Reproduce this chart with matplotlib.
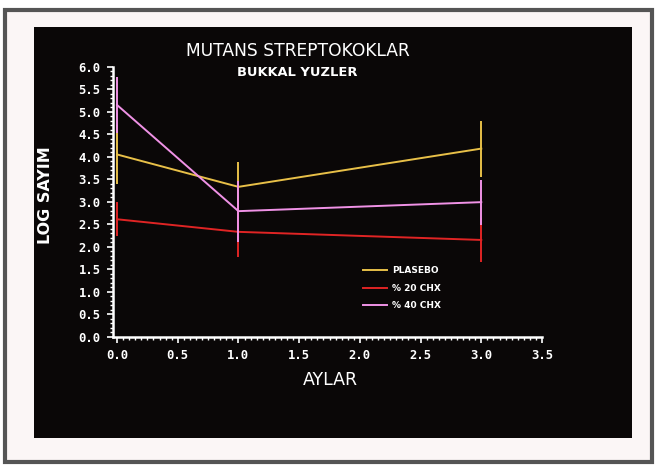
import matplotlib
matplotlib.use("Agg")
import matplotlib.pyplot as plt
from matplotlib.patches import Rectangle
from matplotlib.ticker import MultipleLocator

months = [0, 1, 3]
series_names = ["PLASEBO", "% 20 CHX", "% 40 CHX"]
plasebo = [4.05, 3.33, 4.18]
plasebo_err = [0.65, 0.55, 0.62]
chx20 = [2.61, 2.33, 2.15]
chx20_err = [0.38, 0.55, 0.48]
chx40 = [5.15, 2.79, 2.99]
chx40_err = [0.63, 0.68, 0.50]
xticks = [0.0, 0.5, 1.0, 1.5, 2.0, 2.5, 3.0, 3.5]
yticks = [0.0, 0.5, 1.0, 1.5, 2.0, 2.5, 3.0, 3.5, 4.0, 4.5, 5.0, 5.5, 6.0]

colors = ["#e8c048", "#e02424", "#f092e6"]

fig = plt.figure(figsize=(6.57, 4.67), dpi=100)
fig.patch.set_facecolor("white")
W, H = 657, 467
# slide frame
fig.patches.append(Rectangle((5/W, 5/H), 647/W, 452/H, transform=fig.transFigure,
                             facecolor="#fbf6f6", edgecolor="#555555", linewidth=3,
                             zorder=-20))
fig.patches.append(Rectangle((34/W, 1-438/H), 598/W, 411/H, transform=fig.transFigure,
                             facecolor="#0a0707", edgecolor="none", zorder=-10))

ax = fig.add_axes([113/W, 1-336.7/H, 429/W, 270/H])
ax.set_facecolor("none")
ax.set_xlim(-0.033, 3.5)
ax.set_ylim(0, 6.0)

data = [plasebo, chx20, chx40]
errs = [plasebo_err, chx20_err, chx40_err]
for name, vals, e, c in zip(series_names, data, errs, colors):
    ax.plot(months, vals, color=c, lw=1.4, label=name)
    ax.errorbar(months, vals, yerr=e, fmt="none", ecolor=c, elinewidth=1.4, capsize=0)

for s in ["top", "right"]:
    ax.spines[s].set_visible(False)
for s in ["left", "bottom"]:
    ax.spines[s].set_color("white")
    ax.spines[s].set_linewidth(1.8)
ax.set_xticks(xticks)
ax.set_yticks(yticks)
ax.set_xticklabels([f"{v:.1f}" for v in xticks])
ax.set_yticklabels([f"{v:.1f}" for v in yticks])
ax.xaxis.set_minor_locator(MultipleLocator(0.05))
ax.yaxis.set_minor_locator(MultipleLocator(0.1))
ax.tick_params(axis="both", which="major", colors="white", length=4, width=1.2,
               labelsize=8.8, pad=5)
ax.tick_params(axis="both", which="minor", colors="white", length=2.5, width=1)
for lab in ax.get_xticklabels() + ax.get_yticklabels():
    lab.set_fontfamily("DejaVu Sans Mono")
    lab.set_fontweight("bold")

fig.text(330/W, 1-380/H, "AYLAR", color="white", fontsize=12.5,
         ha="center", va="center", fontfamily="DejaVu Sans")
fig.text(45/W, 1-195/H, "LOG SAYIM", color="white", fontsize=11.5, rotation=90,
         ha="center", va="center", fontfamily="DejaVu Sans", fontweight="bold")

fig.text(298/W, 1-51.5/H, "MUTANS STREPTOKOKLAR", color="white", fontsize=12.3,
         ha="center", va="center", fontfamily="DejaVu Sans")
fig.text(297/W, 1-73/H, "BUKKAL YUZLER", color="white", fontsize=9.4,
         ha="center", va="center", fontfamily="DejaVu Sans", fontweight="bold")

leg = ax.legend(loc="upper left", bbox_to_anchor=((355-113)/429, (336.7-258)/270),
                frameon=False, fontsize=6.5, handlelength=2.6, labelspacing=0.95,
                handletextpad=0.6)
for t in leg.get_texts():
    t.set_color("white")
    t.set_fontweight("bold")

fig.savefig("out.png", dpi=100, facecolor=fig.get_facecolor())
